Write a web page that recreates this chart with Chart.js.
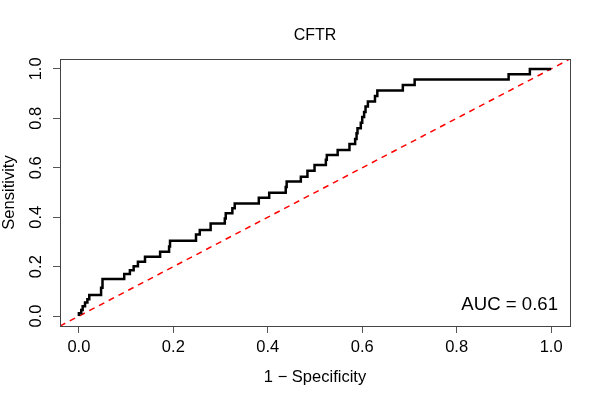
<!DOCTYPE html>
<html>
<head>
<meta charset="utf-8">
<script src="https://cdn.jsdelivr.net/npm/chart.js@4.4.0/dist/chart.umd.min.js"></script>
<style>
  html, body { margin: 0; padding: 0; background: #fff; }
</style>
</head>
<body>
<canvas id="roc" width="600" height="400"></canvas>
<script>
// Puntos de la curva ROC (1 - especificidad, sensibilidad)
const fpr = [0.000, 0.000, 0.005, 0.008, 0.013, 0.018, 0.022, 0.047, 0.050, 0.096,
             0.108, 0.116, 0.125, 0.140, 0.172, 0.191, 0.193, 0.248, 0.256, 0.279,
             0.309, 0.311, 0.325, 0.330, 0.381, 0.403, 0.438, 0.440, 0.470, 0.484,
             0.499, 0.523, 0.525, 0.548, 0.573, 0.585, 0.588, 0.590, 0.597, 0.600,
             0.604, 0.607, 0.612, 0.627, 0.632, 0.686, 0.711, 0.910, 0.955, 1.000];
const tpr = [0.000, 0.012, 0.025, 0.040, 0.055, 0.068, 0.085, 0.115, 0.150, 0.170,
             0.186, 0.202, 0.220, 0.240, 0.260, 0.282, 0.305, 0.330, 0.348, 0.375,
             0.395, 0.416, 0.436, 0.456, 0.479, 0.499, 0.522, 0.544, 0.564, 0.588,
             0.611, 0.632, 0.652, 0.672, 0.696, 0.716, 0.740, 0.760, 0.782, 0.805,
             0.826, 0.848, 0.868, 0.890, 0.913, 0.935, 0.957, 0.978, 1.000, 1.000];

// Linea de referencia (diagonal) y marcas de los ejes
const diagonal = [-0.04, 1.04];
const tickValues = [0, 0.2, 0.4, 0.6, 0.8, 1.0];
const chartTitle = 'CFTR';
const aucLabel = 'AUC = 0.61';

const fontFamily = '"Liberation Sans", Arial, Helvetica, sans-serif';

const rocPoints = fpr.map((x, i) => ({x: x, y: tpr[i]}));
const diagPoints = diagonal.map(v => ({x: v, y: v}));

// Caja alrededor del area del grafico, titulo centrado y texto del AUC
const boxPlugin = {
    id: 'boxPlugin',
    afterDraw(chart) {
        const a = chart.chartArea;
        const ctx = chart.ctx;
        ctx.save();
        ctx.strokeStyle = '#444';
        ctx.lineWidth = 1;
        ctx.strokeRect(Math.round(a.left) + 0.5, Math.round(a.top) + 0.5,
                       Math.round(a.right - a.left), Math.round(a.bottom - a.top));
        ctx.fillStyle = '#000';
        ctx.textBaseline = 'middle';
        ctx.font = '16px ' + fontFamily;
        ctx.textAlign = 'center';
        ctx.fillText(chartTitle, (a.left + a.right) / 2, 36);
        ctx.font = '18.6px ' + fontFamily;
        ctx.textAlign = 'right';
        ctx.fillText(aucLabel, a.right - 12, a.bottom - 21);
        ctx.restore();
    }
};

const axisFont = {family: fontFamily, size: 16.5};

new Chart(document.getElementById('roc'), {
    type: 'scatter',
    data: {
        datasets: [{
            data: rocPoints,
            showLine: true,
            stepped: 'before',
            borderColor: '#000',
            borderWidth: 2.5,
            pointRadius: 0,
            fill: false
        }, {
            data: diagPoints,
            showLine: true,
            borderColor: '#ff0000',
            borderWidth: 1.5,
            borderDash: [6, 5],
            pointRadius: 0,
            fill: false
        }]
    },
    options: {
        responsive: false,
        animation: false,
        devicePixelRatio: 1,
        layout: {padding: {left: 0, right: 30, top: 59, bottom: 0}},
        plugins: {
            legend: {display: false},
            tooltip: {enabled: false},
            title: {display: false}
        },
        scales: {
            x: {
                type: 'linear',
                min: -0.04,
                max: 1.04,
                afterBuildTicks: s => { s.ticks = tickValues.map(v => ({value: v})); },
                afterFit: s => { s.height = 74; },
                border: {display: false},
                grid: {drawOnChartArea: false, drawTicks: true, tickLength: 7, color: '#555'},
                ticks: {
                    callback: v => Number(v).toFixed(1),
                    color: '#000',
                    font: axisFont,
                    padding: 5,
                    maxRotation: 0,
                    autoSkip: false
                },
                title: {
                    display: true,
                    text: '1 − Specificity',
                    color: '#000',
                    font: axisFont,
                    padding: {top: 0, bottom: 13}
                }
            },
            y: {
                type: 'linear',
                min: -0.04,
                max: 1.04,
                afterBuildTicks: s => { s.ticks = tickValues.map(v => ({value: v})); },
                afterFit: s => { s.width = 60; },
                border: {display: false},
                grid: {drawOnChartArea: false, drawTicks: true, tickLength: 7, color: '#555'},
                ticks: {
                    callback: v => Number(v).toFixed(1),
                    color: '#000',
                    font: axisFont,
                    padding: 5,
                    minRotation: 90,
                    maxRotation: 90,
                    crossAlign: 'center',
                    autoSkip: false
                },
                title: {
                    display: true,
                    text: 'Sensitivity',
                    color: '#000',
                    font: axisFont,
                    padding: {top: 0, bottom: 0}
                }
            }
        }
    },
    plugins: [boxPlugin]
});
</script>
</body>
</html>
